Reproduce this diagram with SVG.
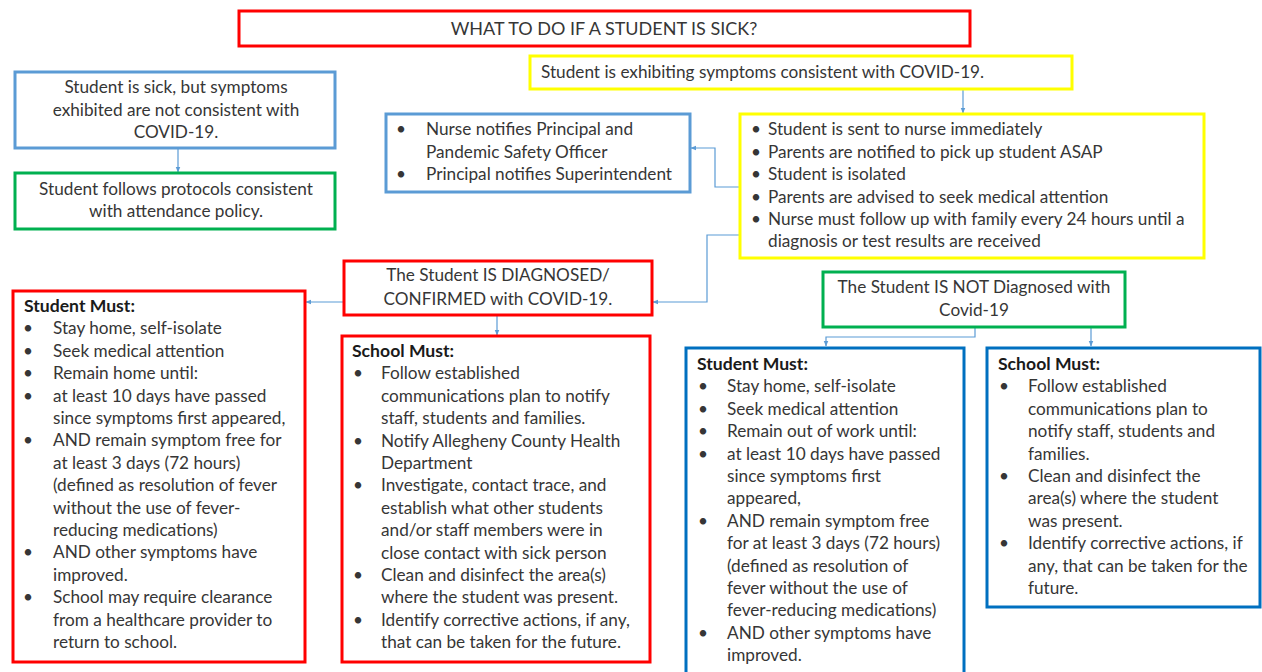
<svg xmlns="http://www.w3.org/2000/svg" width="1262" height="672" viewBox="0 0 1262 672">
<style>
text{font-family:Lato,"Liberation Sans",sans-serif;font-size:17.2px;fill:#363636}
.c{text-anchor:middle}
.t{font-size:18px}
.b{font-weight:bold;fill:#1a1a1a;font-size:17.6px}
.box{fill:#fff;stroke-width:3}
.red{stroke:#ff0000}
.yel{stroke:#ffff00}
.lb{stroke:#5b9bd5}
.gr{stroke:#00b050}
.db{stroke:#0070c0}
.con{fill:none;stroke:#5b9bd5;stroke-width:1.2;marker-end:url(#ah)}
</style>
<defs>
<marker id="ah" viewBox="0 0 10 10" refX="9" refY="5" markerWidth="6" markerHeight="6" orient="auto" markerUnits="userSpaceOnUse">
<path d="M0,1 L10,5 L0,9 z" fill="#5b9bd5"/>
</marker>
</defs>
<rect width="1262" height="672" fill="#fff"/>

<g id="connectors">
<path class="con" d="M178,148 V172"/>
<path class="con" d="M963,90 V113"/>
<path class="con" d="M740,187 H715 V148 H691"/>
<path class="con" d="M759,235 H707 V302 H653"/>
<path class="con" d="M343,302 H306"/>
<path class="con" d="M497,316 V335"/>
<path class="con" d="M963,233 V258"/>
<path class="con" d="M975,327 V337 H826 V346"/>
<path class="con" d="M1091,315 V346"/>
</g>

<g id="title">
<rect class="box red" x="239" y="11" width="731" height="35"/>
<text class="c t" x="604" y="35">WHAT TO DO IF A STUDENT IS SICK?</text>
</g>

<g id="covid-symptoms">
<rect class="box yel" x="530" y="56" width="542" height="33"/>
<text x="541" y="78">Student is exhibiting symptoms consistent with COVID-19.</text>
</g>

<g id="not-covid">
<rect class="box lb" x="15" y="72" width="320" height="76"/>
<text class="c" x="176" y="93">Student is sick, but symptoms</text>
<text class="c" x="176" y="116">exhibited are not consistent with</text>
<text class="c" x="176" y="138">COVID-19.</text>
</g>

<g id="attendance">
<rect class="box gr" x="15" y="173" width="320" height="56"/>
<text class="c" x="176" y="195">Student follows protocols consistent</text>
<text class="c" x="176" y="217">with attendance policy.</text>
</g>

<g id="notify">
<rect class="box lb" x="386" y="114" width="304" height="78"/>
<text x="396" y="135">•</text><text x="426" y="135">Nurse notifies Principal and</text>
<text x="426" y="158">Pandemic Safety Officer</text>
<text x="396" y="180">•</text><text x="426" y="180">Principal notifies Superintendent</text>
</g>

<g id="nurse-steps">
<rect class="box yel" x="740" y="114" width="464" height="144"/>
<text x="751" y="135">•</text><text x="768" y="135">Student is sent to nurse immediately</text>
<text x="751" y="158">•</text><text x="768" y="158">Parents are notified to pick up student ASAP</text>
<text x="751" y="180">•</text><text x="768" y="180">Student is isolated</text>
<text x="751" y="203">•</text><text x="768" y="203">Parents are advised to seek medical attention</text>
<text x="751" y="225">•</text><text x="768" y="225">Nurse must follow up with family every 24 hours until a</text>
<text x="768" y="247">diagnosis or test results are received</text>
</g>

<g id="diagnosed">
<rect class="box red" x="344" y="261" width="308" height="54"/>
<text class="c" x="498" y="281">The Student IS DIAGNOSED/</text>
<text class="c" x="498" y="305">CONFIRMED with COVID-19.</text>
</g>

<g id="not-diagnosed">
<rect class="box gr" x="823" y="272" width="302" height="55"/>
<text class="c" x="974" y="293">The Student IS NOT Diagnosed with</text>
<text class="c" x="974" y="316">Covid-19</text>
</g>

<g id="student-must-pos">
<rect class="box red" x="13" y="291" width="292" height="371"/>
<text class="b" x="24" y="312">Student Must:</text>
<text x="23" y="334.4">•</text><text x="53" y="334.4">Stay home, self-isolate</text>
<text x="23" y="356.8">•</text><text x="53" y="356.8">Seek medical attention</text>
<text x="23" y="379.2">•</text><text x="53" y="379.2">Remain home until:</text>
<text x="23" y="401.6">•</text><text x="53" y="401.6">at least 10 days have passed</text>
<text x="53" y="424">since symptoms first appeared,</text>
<text x="23" y="446.4">•</text><text x="53" y="446.4">AND remain symptom free for</text>
<text x="53" y="468.8">at least 3 days (72 hours)</text>
<text x="53" y="491.2">(defined as resolution of fever</text>
<text x="53" y="513.6">without the use of fever-</text>
<text x="53" y="536">reducing medications)</text>
<text x="23" y="558.4">•</text><text x="53" y="558.4">AND other symptoms have</text>
<text x="53" y="580.8">improved.</text>
<text x="23" y="603.2">•</text><text x="53" y="603.2">School may require clearance</text>
<text x="53" y="625.6">from a healthcare provider to</text>
<text x="53" y="648">return to school.</text>
</g>

<g id="school-must-pos">
<rect class="box red" x="342" y="336" width="308" height="326"/>
<text class="b" x="352" y="357">School Must:</text>
<text x="353" y="379.4">•</text><text x="381" y="379.4">Follow established</text>
<text x="381" y="401.8">communications plan to notify</text>
<text x="381" y="424.2">staff, students and families.</text>
<text x="353" y="446.6">•</text><text x="381" y="446.6">Notify Allegheny County Health</text>
<text x="381" y="469">Department</text>
<text x="353" y="491.4">•</text><text x="381" y="491.4">Investigate, contact trace, and</text>
<text x="381" y="513.8">establish what other students</text>
<text x="381" y="536.2">and/or staff members were in</text>
<text x="381" y="558.6">close contact with sick person</text>
<text x="353" y="581">•</text><text x="381" y="581">Clean and disinfect the area(s)</text>
<text x="381" y="603.4">where the student was present.</text>
<text x="353" y="625.8">•</text><text x="381" y="625.8">Identify corrective actions, if any,</text>
<text x="381" y="648.2">that can be taken for the future.</text>
</g>

<g id="student-must-neg">
<rect class="box db" x="686" y="348" width="278" height="340"/>
<text class="b" x="697" y="370">Student Must:</text>
<text x="698" y="392.4">•</text><text x="727" y="392.4">Stay home, self-isolate</text>
<text x="698" y="414.8">•</text><text x="727" y="414.8">Seek medical attention</text>
<text x="698" y="437.2">•</text><text x="727" y="437.2">Remain out of work until:</text>
<text x="698" y="459.6">•</text><text x="727" y="459.6">at least 10 days have passed</text>
<text x="727" y="482">since symptoms first</text>
<text x="727" y="504.4">appeared,</text>
<text x="698" y="526.8">•</text><text x="727" y="526.8">AND remain symptom free</text>
<text x="727" y="549.2">for at least 3 days (72 hours)</text>
<text x="727" y="571.6">(defined as resolution of</text>
<text x="727" y="594">fever without the use of</text>
<text x="727" y="616.4">fever-reducing medications)</text>
<text x="698" y="638.8">•</text><text x="727" y="638.8">AND other symptoms have</text>
<text x="727" y="661.2">improved.</text>
</g>

<g id="school-must-neg">
<rect class="box db" x="987" y="348" width="273" height="259"/>
<text class="b" x="998" y="370">School Must:</text>
<text x="999" y="392.4">•</text><text x="1028" y="392.4">Follow established</text>
<text x="1028" y="414.8">communications plan to</text>
<text x="1028" y="437.2">notify staff, students and</text>
<text x="1028" y="459.6">families.</text>
<text x="999" y="482">•</text><text x="1028" y="482">Clean and disinfect the</text>
<text x="1028" y="504.4">area(s) where the student</text>
<text x="1028" y="526.8">was present.</text>
<text x="999" y="549.2">•</text><text x="1028" y="549.2">Identify corrective actions, if</text>
<text x="1028" y="571.6">any, that can be taken for the</text>
<text x="1028" y="594">future.</text>
</g>
</svg>
